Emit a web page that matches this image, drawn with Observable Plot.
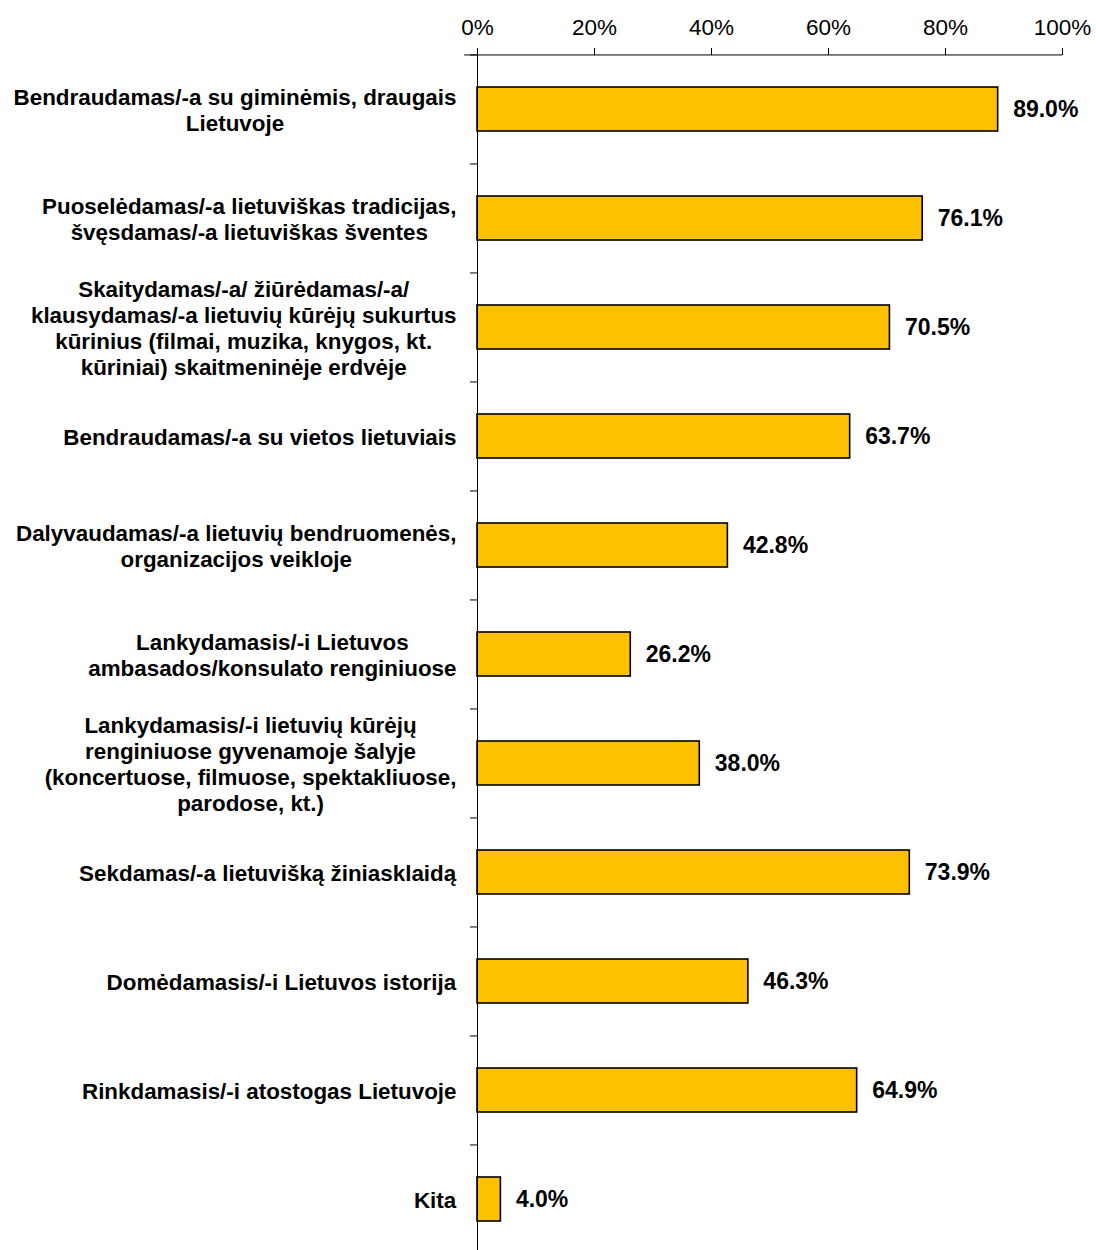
<!DOCTYPE html>
<html>
<head>
<meta charset="utf-8">
<script src="https://cdn.jsdelivr.net/npm/d3@7"></script>
<script src="https://cdn.jsdelivr.net/npm/@observablehq/plot@0.6"></script>
<style>
  html, body { margin: 0; padding: 0; background: #fff; }
  #chart svg { display: block; font-family: "Liberation Sans", Arial, sans-serif; }
</style>
</head>
<body>
<div id="chart"></div>
<script>
const categories = [
  "Bendraudamas/-a su giminėmis, draugais\nLietuvoje",
  "Puoselėdamas/-a lietuviškas tradicijas,\nšvęsdamas/-a lietuviškas šventes",
  "Skaitydamas/-a/ žiūrėdamas/-a/\nklausydamas/-a lietuvių kūrėjų sukurtus\nkūrinius (filmai, muzika, knygos, kt.\nkūriniai) skaitmeninėje erdvėje",
  "Bendraudamas/-a su vietos lietuviais",
  "Dalyvaudamas/-a lietuvių bendruomenės,\norganizacijos veikloje",
  "Lankydamasis/-i Lietuvos\nambasados/konsulato renginiuose",
  "Lankydamasis/-i lietuvių kūrėjų\nrenginiuose gyvenamoje šalyje\n(koncertuose, filmuose, spektakliuose,\nparodose, kt.)",
  "Sekdamas/-a lietuvišką žiniasklaidą",
  "Domėdamasis/-i Lietuvos istorija",
  "Rinkdamasis/-i atostogas Lietuvoje",
  "Kita"
];
const values = [89.0, 76.1, 70.5, 63.7, 42.8, 26.2, 38.0, 73.9, 46.3, 64.9, 4.0];
const xTicks = [0, 20, 40, 60, 80, 100];

const data = categories.map((c, i) => ({label: c, value: values[i]}));

const W = 1096, H = 1250, MT = 54, MB = -4, ML = 477, MR = 34;
const halfStep = (H - MT - MB) / categories.length / 2;

const chart = Plot.plot({
  width: W,
  height: H,
  marginTop: MT,
  marginBottom: MB,
  marginLeft: ML,
  marginRight: MR,
  style: {fontFamily: '"Liberation Sans", Arial, sans-serif', color: "#000", background: "#fff", overflow: "visible"},
  x: {domain: [0, 100], label: null},
  y: {domain: categories, paddingInner: 0.6, paddingOuter: 0.3, label: null},
  marks: [
    Plot.barX(data, {x: "value", y: "label", fill: "#FFC000", stroke: "#000", strokeWidth: 1.6}),
    Plot.text(data, {
      x: "value", y: "label", text: d => d.value.toFixed(1) + "%",
      textAnchor: "start", dx: 15, fontWeight: "bold", fontSize: 23, fill: "#000"
    }),
    // axis lines
    Plot.ruleX([0], {stroke: "#000", strokeWidth: 1}),
    Plot.ruleY([categories[0]], {y: d => d, x1: -2.2, x2: 100, dy: -halfStep, stroke: "#000", strokeWidth: 1}),
    // y ticks at category boundaries
    Plot.ruleY(categories, {y: d => d, x1: -1.2, x2: 0, dy: -halfStep, stroke: "#000", strokeWidth: 1}),
    Plot.axisX({
      anchor: "top", ticks: xTicks, tickFormat: d => d + "%", label: null,
      tickSize: 7, tickPadding: 13, fontSize: 22.5, stroke: "#000", strokeWidth: 1
    }),
    Plot.axisY({
      tickSize: 0, tickPadding: 21, fontSize: 22.4, fontWeight: "bold", lineHeight: 1.16, label: null
    })
  ]
});

document.getElementById("chart").appendChild(chart);

// center each multi-line label on its own block, right edge at the tick padding
chart.querySelectorAll('g[aria-label="y-axis tick label"] text').forEach(t => {
  const w = t.getBBox().width;
  t.setAttribute("text-anchor", "middle");
  const tr = t.getAttribute("transform") || "";
  t.setAttribute("transform", tr + ` translate(${-w / 2},0)`);
});
</script>
</body>
</html>
